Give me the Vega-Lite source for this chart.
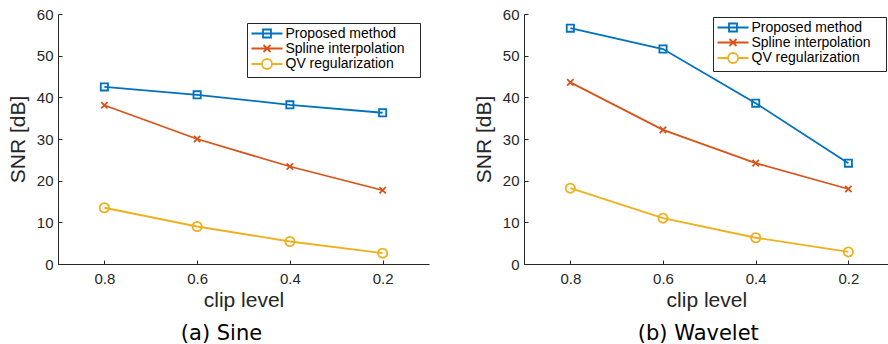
{
  "$schema": "https://vega.github.io/schema/vega-lite/v6.json",
  "background": "white",
  "autosize": {"type": "pad"},
  "padding": {"left": 7, "top": 7, "right": 0, "bottom": 0},
  "spacing": 44,
  "config": {
    "view": {"stroke": null},
    "axis": {
      "grid": false,
      "domainColor": "#262626",
      "domainWidth": 1,
      "tickColor": "#262626",
      "tickWidth": 1,
      "tickSize": -4,
      "labelColor": "#262626",
      "labelFont": "Liberation Sans",
      "labelFontSize": 15,
      "titleColor": "#262626",
      "titleFont": "Liberation Sans",
      "titleFontSize": 21,
      "titleFontWeight": "normal"
    },
    "axisX": {"labelPadding": 11, "titlePadding": 3},
    "axisY": {"labelPadding": 9, "titlePadding": 8},
    "legend": {
      "orient": "top-right",
      "offset": 9,
      "padding": 3.5,
      "rowPadding": -1.5,
      "labelOffset": 21,
      "labelFont": "Liberation Sans",
      "labelFontSize": 14,
      "labelColor": "#000000",
      "symbolSize": 144,
      "symbolStrokeWidth": 1.8,
      "strokeColor": "#262626",
      "fillColor": "white"
    },
    "title": {
      "orient": "bottom",
      "font": "DejaVu Sans",
      "fontSize": 21,
      "fontWeight": "normal",
      "color": "#000000",
      "offset": 13
    }
  },
  "datasets": {
    "snr": [
      {"panel": "sine", "series": "Proposed method", "clip": 0.8, "snr": 42.5},
      {"panel": "sine", "series": "Proposed method", "clip": 0.6, "snr": 40.6},
      {"panel": "sine", "series": "Proposed method", "clip": 0.4, "snr": 38.2},
      {"panel": "sine", "series": "Proposed method", "clip": 0.2, "snr": 36.3},
      {"panel": "sine", "series": "Spline interpolation", "clip": 0.8, "snr": 38.1},
      {"panel": "sine", "series": "Spline interpolation", "clip": 0.6, "snr": 30.0},
      {"panel": "sine", "series": "Spline interpolation", "clip": 0.4, "snr": 23.4},
      {"panel": "sine", "series": "Spline interpolation", "clip": 0.2, "snr": 17.7},
      {"panel": "sine", "series": "QV regularization", "clip": 0.8, "snr": 13.5},
      {"panel": "sine", "series": "QV regularization", "clip": 0.6, "snr": 9.0},
      {"panel": "sine", "series": "QV regularization", "clip": 0.4, "snr": 5.4},
      {"panel": "sine", "series": "QV regularization", "clip": 0.2, "snr": 2.6},
      {"panel": "wavelet", "series": "Proposed method", "clip": 0.8, "snr": 56.6},
      {"panel": "wavelet", "series": "Proposed method", "clip": 0.6, "snr": 51.6},
      {"panel": "wavelet", "series": "Proposed method", "clip": 0.4, "snr": 38.6},
      {"panel": "wavelet", "series": "Proposed method", "clip": 0.2, "snr": 24.2},
      {"panel": "wavelet", "series": "Spline interpolation", "clip": 0.8, "snr": 43.6},
      {"panel": "wavelet", "series": "Spline interpolation", "clip": 0.6, "snr": 32.2},
      {"panel": "wavelet", "series": "Spline interpolation", "clip": 0.4, "snr": 24.2},
      {"panel": "wavelet", "series": "Spline interpolation", "clip": 0.2, "snr": 18.0},
      {"panel": "wavelet", "series": "QV regularization", "clip": 0.8, "snr": 18.2},
      {"panel": "wavelet", "series": "QV regularization", "clip": 0.6, "snr": 11.0},
      {"panel": "wavelet", "series": "QV regularization", "clip": 0.4, "snr": 6.3},
      {"panel": "wavelet", "series": "QV regularization", "clip": 0.2, "snr": 2.9}
    ]
  },
  "resolve": {"legend": {"color": "independent"}},
  "hconcat": [
    {
      "width": 371,
      "height": 250,
      "title": {"text": "(a) Sine", "frame": "group", "dx": -22},
      "data": {"name": "snr"},
      "transform": [{"filter": "datum.panel === 'sine'"}],
      "encoding": {
        "x": {
          "field": "clip", "type": "quantitative",
          "scale": {"domain": [0.1, 0.9], "reverse": true, "nice": false, "zero": false},
          "axis": {"values": [0.8, 0.6, 0.4, 0.2], "format": ".1f", "title": "clip level"}
        },
        "y": {
          "field": "snr", "type": "quantitative",
          "scale": {"domain": [0, 60], "nice": false},
          "axis": {"values": [0, 10, 20, 30, 40, 50, 60], "title": "SNR [dB]"}
        },
        "color": {
          "field": "series", "type": "nominal",
          "scale": {
            "domain": ["Proposed method", "Spline interpolation", "QV regularization"],
            "range": ["#0072BD", "#D95319", "#EDB120"]
          },
          "legend": {
            "title": null,
            "labelExpr": "datum.label + '\u00a0\u00a0\u00a0\u200b'",
            "encode": {
              "symbols": {
                "update": {
                  "fill": {"value": "transparent"},
                  "strokeWidth": {"value": 1.8},
                  "shape": {"signal": "datum.value === 'Proposed method' ? 'M-1,0H4.167M0.917,-0.667H2.25V0.667H0.917Z' : datum.value === 'Spline interpolation' ? 'M-1,0H4.167M1,-0.583L2.167,0.583M1,0.583L2.167,-0.583' : 'M-1,0H0.75M2.417,0H4.167M2.417,0A0.833,0.833,0,1,1,0.75,0A0.833,0.833,0,1,1,2.417,0'"}
                }
              }
            }
          }
        }
      },
      "layer": [
        {"mark": {"type": "line", "strokeWidth": 1.8}},
        {
          "mark": {"type": "point", "filled": false, "strokeWidth": 1.8, "size": 64, "opacity": 1},
          "encoding": {
            "shape": {
              "field": "series", "type": "nominal",
              "scale": {
                "domain": ["Proposed method", "Spline interpolation", "QV regularization"],
                "range": ["M-0.9,-0.9H0.9V0.9H-0.9Z", "M-0.8,-0.8L0.8,0.8M-0.8,0.8L0.8,-0.8", "M1.16,0A1.16,1.16,0,1,1,-1.16,0A1.16,1.16,0,1,1,1.16,0"]
              },
              "legend": null
            }
          }
        }
      ]
    },
    {
      "width": 364.7,
      "height": 250,
      "title": {"text": "(b) Wavelet", "frame": "group", "dx": -8},
      "data": {"name": "snr"},
      "transform": [{"filter": "datum.panel === 'wavelet'"}],
      "encoding": {
        "x": {
          "field": "clip", "type": "quantitative",
          "scale": {"domain": [0.113, 0.9], "reverse": true, "nice": false, "zero": false},
          "axis": {"values": [0.8, 0.6, 0.4, 0.2], "format": ".1f", "title": "clip level"}
        },
        "y": {
          "field": "snr", "type": "quantitative",
          "scale": {"domain": [0, 60], "nice": false},
          "axis": {"values": [0, 10, 20, 30, 40, 50, 60], "title": "SNR [dB]"}
        },
        "color": {
          "field": "series", "type": "nominal",
          "scale": {
            "domain": ["Proposed method", "Spline interpolation", "QV regularization"],
            "range": ["#0072BD", "#D95319", "#EDB120"]
          },
          "legend": {
            "title": null,
            "offset": 3,
            "labelExpr": "datum.label + '\u00a0\u00a0\u00a0\u200b'",
            "encode": {
              "symbols": {
                "update": {
                  "fill": {"value": "transparent"},
                  "strokeWidth": {"value": 1.8},
                  "shape": {"signal": "datum.value === 'Proposed method' ? 'M-1,0H4.167M0.917,-0.667H2.25V0.667H0.917Z' : datum.value === 'Spline interpolation' ? 'M-1,0H4.167M1,-0.583L2.167,0.583M1,0.583L2.167,-0.583' : 'M-1,0H0.75M2.417,0H4.167M2.417,0A0.833,0.833,0,1,1,0.75,0A0.833,0.833,0,1,1,2.417,0'"}
                }
              }
            }
          }
        }
      },
      "layer": [
        {"mark": {"type": "line", "strokeWidth": 1.8}},
        {
          "mark": {"type": "point", "filled": false, "strokeWidth": 1.8, "size": 64, "opacity": 1},
          "encoding": {
            "shape": {
              "field": "series", "type": "nominal",
              "scale": {
                "domain": ["Proposed method", "Spline interpolation", "QV regularization"],
                "range": ["M-0.9,-0.9H0.9V0.9H-0.9Z", "M-0.8,-0.8L0.8,0.8M-0.8,0.8L0.8,-0.8", "M1.16,0A1.16,1.16,0,1,1,-1.16,0A1.16,1.16,0,1,1,1.16,0"]
              },
              "legend": null
            }
          }
        }
      ]
    }
  ]
}
